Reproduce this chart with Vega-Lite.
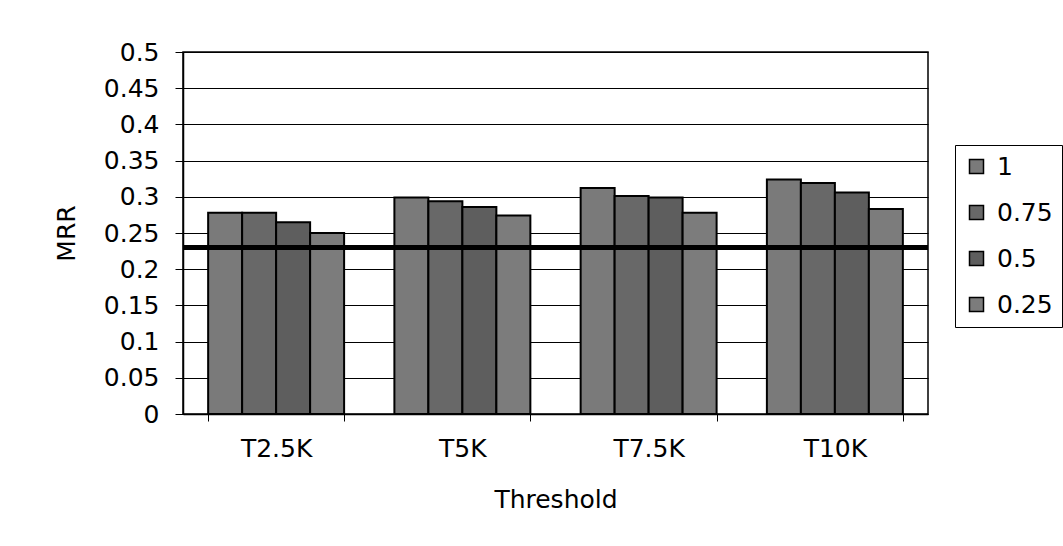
{
  "$schema": "https://vega.github.io/schema/vega-lite/v6.json",
  "autosize": {"type": "none"},
  "width": 745,
  "height": 362,
  "padding": {"left": 183, "top": 52, "right": 135, "bottom": 132},
  "background": "white",
  "config": {
    "font": "DejaVu Sans",
    "view": {"stroke": "black", "strokeWidth": 1.5}
  },
  "datasets": {
    "bars": [
      {"threshold": "T2.5K", "weight": "1", "mrr": 0.278},
      {"threshold": "T2.5K", "weight": "0.75", "mrr": 0.278},
      {"threshold": "T2.5K", "weight": "0.5", "mrr": 0.265},
      {"threshold": "T2.5K", "weight": "0.25", "mrr": 0.25},
      {"threshold": "T5K", "weight": "1", "mrr": 0.299},
      {"threshold": "T5K", "weight": "0.75", "mrr": 0.294},
      {"threshold": "T5K", "weight": "0.5", "mrr": 0.286},
      {"threshold": "T5K", "weight": "0.25", "mrr": 0.274},
      {"threshold": "T7.5K", "weight": "1", "mrr": 0.312},
      {"threshold": "T7.5K", "weight": "0.75", "mrr": 0.301},
      {"threshold": "T7.5K", "weight": "0.5", "mrr": 0.299},
      {"threshold": "T7.5K", "weight": "0.25", "mrr": 0.278},
      {"threshold": "T10K", "weight": "1", "mrr": 0.324},
      {"threshold": "T10K", "weight": "0.75", "mrr": 0.319},
      {"threshold": "T10K", "weight": "0.5", "mrr": 0.306},
      {"threshold": "T10K", "weight": "0.25", "mrr": 0.283}
    ],
    "baseline": [{"level": 0.23}]
  },
  "layer": [
    {
      "data": {"name": "bars"},
      "mark": {"type": "bar", "stroke": "black", "strokeWidth": 2, "opacity": 1},
      "encoding": {
        "x": {
          "field": "threshold", "type": "nominal",
          "sort": ["T2.5K", "T5K", "T7.5K", "T10K"],
          "scale": {"paddingInner": 0.27, "paddingOuter": 0.135},
          "axis": {
            "title": "Threshold", "labelAngle": 0, "tickBand": "extent",
            "domainColor": "black", "domainWidth": 1.5, "tickColor": "black", "tickSize": 7,
            "labelFontSize": 25, "labelColor": "black", "labelPadding": 15,
            "titleFontSize": 25, "titleFontWeight": "normal", "titleColor": "black", "titlePadding": 26
          }
        },
        "xOffset": {"field": "weight", "type": "nominal", "sort": ["1", "0.75", "0.5", "0.25"], "scale": {"paddingInner": 0, "paddingOuter": 0}},
        "y": {
          "field": "mrr", "type": "quantitative",
          "scale": {"domain": [0, 0.5]},
          "axis": {
            "title": "MRR", "values": [0, 0.05, 0.1, 0.15, 0.2, 0.25, 0.3, 0.35, 0.4, 0.45, 0.5],
            "labelOverlap": false, "labelBound": false,
            "format": "~g", "grid": true, "gridColor": "black", "gridOpacity": 1, "gridWidth": 1,
            "domainColor": "black", "domainWidth": 1.5, "tickColor": "black", "tickSize": 8,
            "labelFontSize": 25, "labelColor": "black", "labelPadding": 16,
            "titleFontSize": 25, "titleFontWeight": "normal", "titleColor": "black", "titlePadding": 24
          }
        },
        "fill": {
          "field": "weight", "type": "nominal", "sort": ["1", "0.75", "0.5", "0.25"],
          "scale": {"range": ["#7a7a7a", "#686868", "#5e5e5e", "#7c7c7c"]},
          "legend": {
            "title": null, "orient": "none", "legendX": 772, "legendY": 93,
            "symbolType": "square", "symbolSize": 196, "symbolStrokeColor": "black", "symbolStrokeWidth": 1.5,
            "labelFontSize": 25, "labelColor": "black", "rowPadding": 20, "labelOffset": 8,
            "padding": 9, "strokeColor": "black", "fillColor": "white"
          }
        }
      }
    },
    {
      "data": {"name": "baseline"},
      "mark": {"type": "rule", "color": "black", "strokeWidth": 5},
      "encoding": {
        "y": {
          "field": "level", "type": "quantitative",
          "axis": {
            "title": "MRR", "values": [0, 0.05, 0.1, 0.15, 0.2, 0.25, 0.3, 0.35, 0.4, 0.45, 0.5],
            "labelOverlap": false, "labelBound": false,
            "format": "~g", "grid": true, "gridColor": "black", "gridOpacity": 1, "gridWidth": 1,
            "domainColor": "black", "domainWidth": 1.5, "tickColor": "black", "tickSize": 8,
            "labelFontSize": 25, "labelColor": "black", "labelPadding": 16,
            "titleFontSize": 25, "titleFontWeight": "normal", "titleColor": "black", "titlePadding": 24
          }
        }
      }
    }
  ]
}
